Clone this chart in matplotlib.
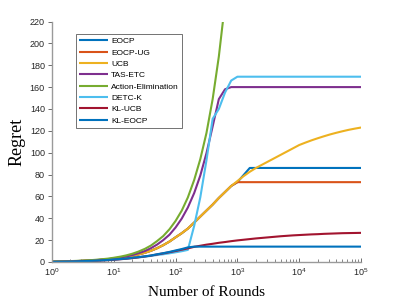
import numpy as np
import matplotlib
matplotlib.use("Agg")
import matplotlib.pyplot as plt
from matplotlib.ticker import LogLocator, LogFormatterMathtext, NullFormatter

plt.rcParams['font.family'] = ['Liberation Sans', 'DejaVu Sans']
plt.rcParams['mathtext.fontset'] = 'custom'
plt.rcParams['mathtext.rm'] = 'Liberation Sans'
plt.rcParams['mathtext.it'] = 'Liberation Sans:italic'

nan = float('nan')
rounds = [1, 1.3, 1.6, 2, 2.5, 3.2, 4, 5, 6.3, 8, 10, 13, 16, 20, 25, 32, 40, 50, 63, 80,
          100, 126, 158, 200, 251, 316, 398, 501, 631, 794, 1000, 1259, 1585, 1995, 2512,
          3162, 3981, 5012, 6310, 7943, 10000, 12589, 15849, 19953, 25119, 31623, 39811,
          50119, 63096, 79433, 100000]

ucb = [0.1, 0.2, 0.35, 0.5, 0.7, 1.0, 1.2, 1.5, 1.9, 2.4, 3.0, 3.8, 4.6, 5.5, 6.8, 8.4,
       10.2, 12.5, 15.3, 18.7, 22.5, 26.3, 30.5, 36.0, 41.5, 47.0, 52.5, 58.5, 64.0, 69.5,
       74.0, 78.5, 82.5, 86.0, 89.0, 92.0, 95.0, 98.0, 101.0, 104.0, 107.0, 109.2, 111.3,
       113.2, 115.0, 116.7, 118.2, 119.6, 120.9, 122.0, 123.0]
eocp_ug = [0.1, 0.2, 0.35, 0.5, 0.7, 1.0, 1.2, 1.5, 1.9, 2.4, 3.0, 3.8, 4.6, 5.5, 6.8, 8.4,
           10.2, 12.5, 15.3, 18.7, 22.5, 26.3, 30.5, 36.0, 41.5, 47.0, 52.5, 58.5, 64.0, 69.5,
           73.0, 73.0, 73.0, 73.0, 73.0, 73.0, 73.0, 73.0, 73.0, 73.0, 73.0, 73.0, 73.0,
           73.0, 73.0, 73.0, 73.0, 73.0, 73.0, 73.0, 73.0]
eocp = [0.1, 0.2, 0.35, 0.5, 0.7, 1.0, 1.2, 1.5, 1.9, 2.4, 3.0, 3.8, 4.6, 5.5, 6.8, 8.4,
        10.2, 12.5, 15.3, 18.7, 22.5, 26.3, 30.5, 36.0, 41.5, 47.0, 52.5, 58.5, 64.0, 69.5,
        73.0, 79.5, 86.0, 86.0, 86.0, 86.0, 86.0, 86.0, 86.0, 86.0, 86.0, 86.0, 86.0,
        86.0, 86.0, 86.0, 86.0, 86.0, 86.0, 86.0, 86.0]
tas_etc = [0.3, 0.4, 0.5, 0.6, 0.8, 1.0, 1.3, 1.6, 2.0, 2.5, 3.2, 4.1, 5.0, 6.3, 7.9, 10.0,
           12.6, 15.8, 19.9, 25.0, 31.5, 39.7, 49.8, 63.0, 79.0, 99.5, 124.0, 149.0, 158.0,
           160.0, 160.0, 160.0, 160.0, 160.0, 160.0, 160.0, 160.0, 160.0, 160.0, 160.0,
           160.0, 160.0, 160.0, 160.0, 160.0, 160.0, 160.0, 160.0, 160.0, 160.0, 160.0]
action_elim = [0.4, 0.5, 0.6, 0.75, 0.95, 1.2, 1.5, 1.9, 2.4, 3.0, 3.8, 4.9, 6.0, 7.5, 9.4,
               12.0, 15.0, 19.0, 23.6, 30.0, 37.5, 47.0, 59.0, 75.0, 94.0, 118.0, 149.0,
               188.0, 237.0, nan, nan, nan, nan, nan, nan, nan, nan, nan, nan, nan, nan,
               nan, nan, nan, nan, nan, nan, nan, nan, nan, nan]
detc_k = [0.0, 0.1, 0.2, 0.3, 0.45, 0.6, 0.8, 1.0, 1.3, 1.6, 2.0, 2.5, 2.9, 3.5, 4.1, 4.8,
          5.5, 6.3, 7.0, 7.9, 8.8, 9.8, 11.0, 33.0, 59.0, 93.0, 131.0, 140.0, 155.0, 166.0,
          169.5, 169.5, 169.5, 169.5, 169.5, 169.5, 169.5, 169.5, 169.5, 169.5, 169.5,
          169.5, 169.5, 169.5, 169.5, 169.5, 169.5, 169.5, 169.5, 169.5, 169.5]
kl_ucb = [0.0, 0.1, 0.2, 0.3, 0.45, 0.6, 0.8, 1.0, 1.3, 1.6, 2.0, 2.5, 3.0, 3.5, 4.2, 5.0,
          5.8, 6.8, 7.8, 8.9, 10.0, 11.2, 12.4, 13.8, 14.8, 15.8, 16.6, 17.5, 18.2, 19.0,
          19.7, 20.3, 20.9, 21.5, 22.0, 22.5, 23.0, 23.5, 23.9, 24.3, 24.6, 24.9, 25.2,
          25.4, 25.7, 25.9, 26.1, 26.3, 26.4, 26.5, 26.6]
kl_eocp = [0.0, 0.1, 0.2, 0.3, 0.5, 0.7, 0.9, 1.1, 1.4, 1.8, 2.2, 2.7, 3.1, 3.8, 4.4, 5.1,
           5.9, 7.0, 8.0, 9.2, 10.5, 11.8, 13.3, 14.0, 14.0, 14.0, 14.0, 14.0, 14.0, 14.0,
           14.0, 14.0, 14.0, 14.0, 14.0, 14.0, 14.0, 14.0, 14.0, 14.0, 14.0, 14.0, 14.0,
           14.0, 14.0, 14.0, 14.0, 14.0, 14.0, 14.0, 14.0]

labels = ['EOCP', 'EOCP-UG', 'UCB', 'TAS-ETC', 'Action-Elimination', 'DETC-K', 'KL-UCB', 'KL-EOCP']
series = [eocp, eocp_ug, ucb, tas_etc, action_elim, detc_k, kl_ucb, kl_eocp]
colors = ['#0072BD', '#D95319', '#EDB120', '#7E2F8E', '#77AC30', '#4DBEEE', '#A2142F', '#0072BD']
yticks = list(range(0, 221, 20))

fig = plt.figure(figsize=(3.99, 2.99), dpi=100)
ax = fig.add_axes([0.130, 0.124, 0.775, 0.804])

for lab, ys, c in zip(labels, series, colors):
    ax.plot(rounds, ys, color=c, lw=1.5, label=lab, solid_capstyle='butt')

ax.set_xscale('log')
ax.set_xlim(1, 1e5)
ax.set_ylim(0, 220)
ax.set_yticks(yticks)
ax.xaxis.set_major_locator(LogLocator(base=10, numticks=10))
ax.xaxis.set_major_formatter(LogFormatterMathtext())
ax.xaxis.set_minor_locator(LogLocator(base=10, subs=np.arange(2, 10), numticks=20))
ax.xaxis.set_minor_formatter(NullFormatter())

for s in ['top', 'right']:
    ax.spines[s].set_visible(False)
for s in ['left', 'bottom']:
    ax.spines[s].set_color('#9a9a9a')
    ax.spines[s].set_linewidth(1.0)

ax.tick_params(axis='y', which='major', direction='out', length=3, width=0.6,
               color='#555555', labelsize=6.5, labelcolor='#262626', pad=2)
ax.tick_params(axis='x', which='major', direction='in', length=3, width=0.6,
               color='#555555', labelsize=6.5, labelcolor='#262626', pad=3)
ax.tick_params(axis='x', which='minor', direction='in', length=2, width=0.5, color='#555555')

ax.set_xlabel('Number of Rounds', family=['Liberation Serif'], fontsize=11, labelpad=6)
ax.set_ylabel('Regret', family=['Liberation Serif'], fontsize=13, labelpad=3)

leg = ax.legend(loc='upper left', bbox_to_anchor=(0.078, 0.948), borderaxespad=0,
                fontsize=6, frameon=True, fancybox=False, edgecolor='#333333',
                handlelength=3.4, handletextpad=0.4, labelspacing=0.42,
                borderpad=0.4)
leg.get_frame().set_linewidth(0.6)

fig.savefig('out.png', dpi=100)
